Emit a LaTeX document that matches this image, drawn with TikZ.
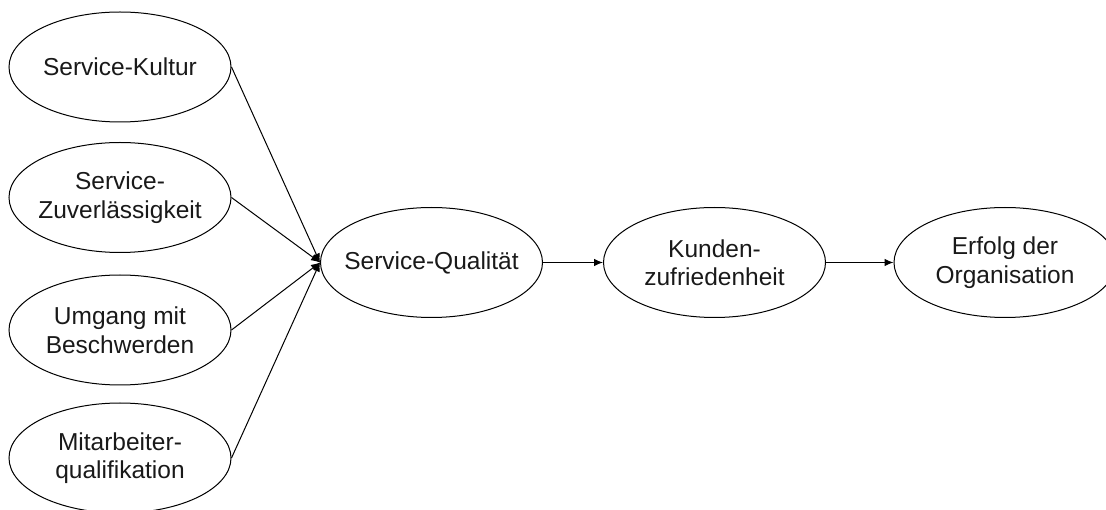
\documentclass[tikz,border=0pt]{standalone}
\usepackage{fontspec}
\setmainfont{Liberation Sans}
\usetikzlibrary{shapes.geometric,arrows.meta}
\begin{document}
\begin{tikzpicture}[x=1pt,y=-1pt,
  ell/.style={draw=black,line width=1pt,ellipse,minimum width=222pt,minimum height=110pt,inner sep=0pt,
    label={[txt]center:#1}},
  txt/.style={align=center,inner sep=0pt,font=\fontsize{24.5}{28.5}\selectfont,text=black!90},
  arr/.style={draw=black,line width=1pt,-{Latex[length=9pt,width=7.5pt]}}]
\useasboundingbox (0,0) rectangle (1106,510);
\node[ell={Service-Kultur}] (kultur) at (120,67) {};
\node[ell={Service-\\Zuverlässigkeit}] (zuv) at (120,197.5) {};
\node[ell={Umgang mit\\Beschwerden}] (umg) at (120,330) {};
\node[ell={Mitarbeiter-\\qualifikation}] (mit) at (120,458) {};
\node[ell={Service-Qualität}] (sq) at (431.5,262.5) {};
\node[ell={Kunden-\\zufriedenheit}] (kz) at (714.5,262.5) {};
\node[ell={Erfolg der\\Organisation}] (erf) at (1005,262.5) {};
\draw[arr] (kultur.east) -- (sq.west);
\draw[arr] (zuv.east) -- (sq.west);
\draw[arr] (umg.east) -- (sq.west);
\draw[arr] (mit.east) -- (sq.west);
\draw[arr] (sq.east) -- (kz.west);
\draw[arr] (kz.east) -- (erf.west);
\end{tikzpicture}
\end{document}
